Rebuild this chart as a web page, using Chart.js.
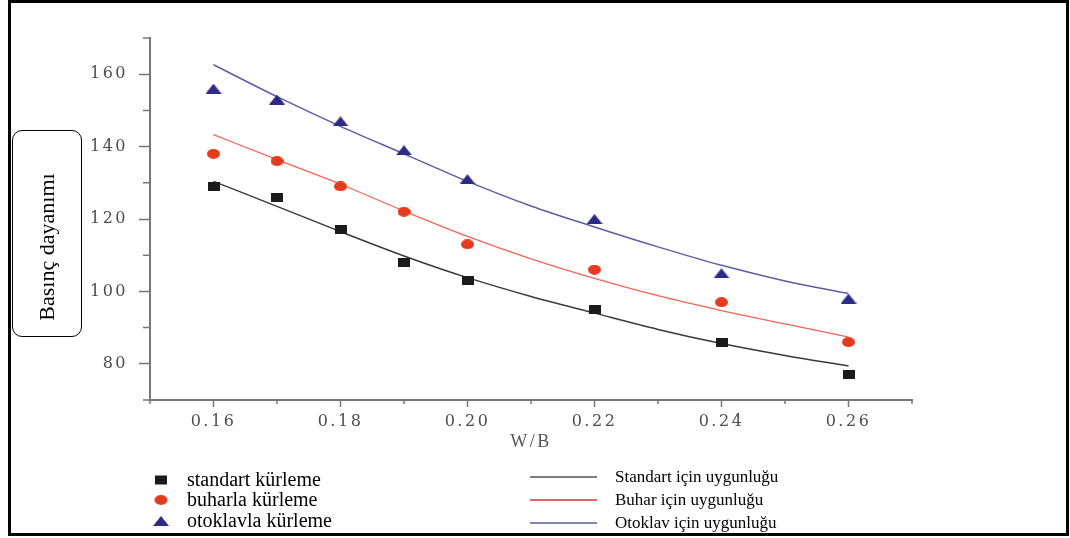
<!DOCTYPE html>
<html>
<head>
<meta charset="utf-8">
<script src="https://cdn.jsdelivr.net/npm/chart.js@4.4.1/dist/chart.umd.min.js"></script>
<style>
  html, body { margin: 0; padding: 0; background: #fff; }
  #wrap { position: relative; width: 1070px; height: 538px; overflow: hidden; background: #fff; }
  #chart { position: absolute; left: 0; top: 0; }
  #frame { position: absolute; left: 8px; top: 0; width: 1061px; height: 536px; border: 3px solid #000; box-sizing: border-box; pointer-events: none; }
  #ybox { position: absolute; left: 12px; top: 130px; width: 70px; height: 207px; border: 1.5px solid #000; border-radius: 10px; box-sizing: border-box; }
  #ylabel { position: absolute; left: 47px; top: 247px; transform: translate(-50%, -50%) rotate(-90deg); font: 22px "Liberation Serif", serif; color: #000; white-space: nowrap; }
  .leg { position: absolute; white-space: nowrap; color: #000; transform: translateY(-50%); }
  .leg-mark { position: absolute; transform: translate(-50%, -50%); }
  .leg-line { position: absolute; height: 2px; width: 67px; transform: translateY(-50%); }
</style>
</head>
<body>
<div id="wrap">
  <canvas id="chart" width="1070" height="538"></canvas>
  <div id="ybox"></div>
  <div id="ylabel">Basınç dayanımı</div>
  <div id="legend"></div>
  <div id="frame"></div>
</div>
<script>
// W/B ratio of the measured samples
const wb = [0.16, 0.17, 0.18, 0.19, 0.20, 0.22, 0.24, 0.26];
const standart = [129, 126, 117, 108, 103, 95, 86, 77];
const buhar = [138, 136, 129, 122, 113, 106, 97, 86];
const otoklav = [156, 153, 147, 139, 131, 120, 105, 98];

// fitted curves
const fitX = [0.16, 0.17, 0.18, 0.19, 0.20, 0.21, 0.22, 0.23, 0.24, 0.25, 0.26];
const standartFit = [130.4, 123.5, 116.5, 109.8, 103.8, 98.6, 94.0, 89.5, 85.6, 82.3, 79.4];
const buharFit = [143.3, 136.4, 129.6, 122.2, 115.2, 109.0, 103.6, 98.8, 94.7, 91.0, 87.4];
const otoklavFit = [162.6, 153.8, 145.6, 138.0, 130.4, 123.6, 117.8, 112.3, 107.2, 102.9, 99.4];

// axis ticks
const xTicks = [0.15, 0.16, 0.17, 0.18, 0.19, 0.20, 0.21, 0.22, 0.23, 0.24, 0.25, 0.26, 0.27];
const xLabels = ['0.16', '0.18', '0.20', '0.22', '0.24', '0.26'];
const yTicks = [70, 80, 90, 100, 110, 120, 130, 140, 150, 160, 170];
const yLabels = ['80', '100', '120', '140', '160'];

const xLabelOf = v => { const s = v.toFixed(2); return xLabels.includes(s) ? s : ''; };
const yLabelOf = v => { const s = String(Math.round(v)); return yLabels.includes(s) ? s : ''; };

function marker(shape, w, h, color) {
    const c = document.createElement('canvas');
    c.width = w; c.height = h;
    const g = c.getContext('2d');
    g.fillStyle = color;
    g.beginPath();
    if (shape === 'rect') g.rect(0, 0, w, h);
    if (shape === 'ellipse') g.ellipse(w / 2, h / 2, w / 2, h / 2, 0, 0, Math.PI * 2);
    if (shape === 'tri') { g.moveTo(w / 2, 0); g.lineTo(w, h); g.lineTo(0, h); g.closePath(); }
    g.fill();
    return c;
}

const sqMark = marker('rect', 12, 9, '#1b1b1b');
const ciMark = marker('ellipse', 13, 10, '#e63a1f');
const trMark = marker('tri', 16, 10, '#2d2b86');

const pts = (xs, ys) => xs.map((x, i) => ({ x: x, y: ys[i] }));

const fitLine = (label, xs, ys, color, w) => ({
    type: 'line', label: label, data: pts(xs, ys),
    borderColor: color, borderWidth: w, pointRadius: 0,
    cubicInterpolationMode: 'monotone', fill: false, order: 2
});
const scatter = (label, ys, mark) => ({
    type: 'scatter', label: label, data: pts(wb, ys),
    pointStyle: mark, pointRadius: 7, backgroundColor: '#000', order: 1
});

const minorTicks = {
    id: 'minorTicks',
    beforeDraw(chart) { chart.ctx.letterSpacing = '2.5px'; },
    afterDraw(chart) {
        const ctx = chart.ctx;
        const x = chart.scales.x, y = chart.scales.y;
        ctx.save();
        ctx.strokeStyle = '#777';
        ctx.lineWidth = 1.5;
        ctx.beginPath();
        xTicks.forEach(v => {
            if (xLabelOf(v)) return;
            const px = x.getPixelForValue(v);
            ctx.moveTo(px, x.top); ctx.lineTo(px, x.top + 4);
        });
        yTicks.forEach(v => {
            if (yLabelOf(v)) return;
            const py = y.getPixelForValue(v);
            ctx.moveTo(y.right - 7, py); ctx.lineTo(y.right, py);
        });
        ctx.stroke();
        ctx.restore();
        ctx.letterSpacing = '0px';
    }
};

const tickFont = { family: 'DejaVu Serif', size: 16 };

new Chart(document.getElementById('chart'), {
    data: {
        datasets: [
            scatter('standart kürleme', standart, sqMark),
            scatter('buharla kürleme', buhar, ciMark),
            scatter('otoklavla kürleme', otoklav, trMark),
            fitLine('Standart için uygunluğu', fitX, standartFit, '#3a3a3a', 1.5),
            fitLine('Buhar için uygunluğu', fitX, buharFit, '#f26457', 1.3),
            fitLine('Otoklav için uygunluğu', fitX, otoklavFit, '#5c5ca8', 1.5)
        ]
    },
    options: {
        responsive: false,
        animation: false,
        layout: { padding: { left: 0, top: 38, right: 158, bottom: 85 } },
        plugins: { legend: { display: false }, tooltip: { enabled: false } },
        scales: {
            x: {
                type: 'linear', min: 0.15, max: 0.27,
                afterBuildTicks: s => { s.ticks = xTicks.map(v => ({ value: v })); },
                afterFit: s => { s.height = 53; },
                grid: {
                    drawOnChartArea: false, drawTicks: true, tickLength: 7, tickWidth: 1.5,
                    tickColor: c => (c.tick && xLabelOf(c.tick.value)) ? '#777' : 'rgba(0,0,0,0)'
                },
                border: { display: true, color: '#777', width: 2 },
                ticks: { autoSkip: false, maxRotation: 0, padding: 5, color: '#4d4d4d', font: tickFont, callback: v => xLabelOf(v) },
                title: { display: true, text: 'W/B', color: '#555', font: { family: 'Liberation Serif', size: 18 }, padding: { top: 0, bottom: 0 } }
            },
            y: {
                type: 'linear', min: 70, max: 170,
                afterBuildTicks: s => { s.ticks = yTicks.map(v => ({ value: v })); },
                afterFit: s => { s.width = 150; },
                grid: {
                    drawOnChartArea: false, drawTicks: true, tickLength: 11, tickWidth: 1.5,
                    tickColor: c => (c.tick && yLabelOf(c.tick.value)) ? '#777' : 'rgba(0,0,0,0)'
                },
                border: { display: true, color: '#777', width: 2 },
                ticks: { autoSkip: false, padding: 11, color: '#4d4d4d', font: tickFont, callback: v => yLabelOf(v) }
            }
        }
    },
    plugins: [minorTicks]
});

// legend below the plot: markers on the left, fitted lines on the right
const legend = document.getElementById('legend');
const markRows = [
    { mark: sqMark, text: 'standart kürleme', y: 480 },
    { mark: ciMark, text: 'buharla kürleme', y: 500 },
    { mark: trMark, text: 'otoklavla kürleme', y: 521 }
];
markRows.forEach(r => {
    const img = r.mark.cloneNode();
    img.getContext('2d').drawImage(r.mark, 0, 0);
    img.className = 'leg-mark';
    img.style.left = '161px';
    img.style.top = r.y + 'px';
    legend.appendChild(img);
    const t = document.createElement('div');
    t.className = 'leg';
    t.style.left = '187px';
    t.style.top = (r.y - 1) + 'px';
    t.style.font = '20px "Liberation Serif", "Times New Roman", serif';
    t.textContent = r.text;
    legend.appendChild(t);
});
const lineRows = [
    { color: '#7d7d7d', text: 'Standart için uygunluğu', y: 477 },
    { color: '#e06666', text: 'Buhar için uygunluğu', y: 500 },
    { color: '#8585b5', text: 'Otoklav için uygunluğu', y: 523 }
];
lineRows.forEach(r => {
    const l = document.createElement('div');
    l.className = 'leg-line';
    l.style.left = '530px';
    l.style.top = r.y + 'px';
    l.style.background = r.color;
    legend.appendChild(l);
    const t = document.createElement('div');
    t.className = 'leg';
    t.style.left = '615px';
    t.style.top = r.y + 'px';
    t.style.font = '17px "Liberation Serif", "Times New Roman", serif';
    t.textContent = r.text;
    legend.appendChild(t);
});
</script>
</body>
</html>
